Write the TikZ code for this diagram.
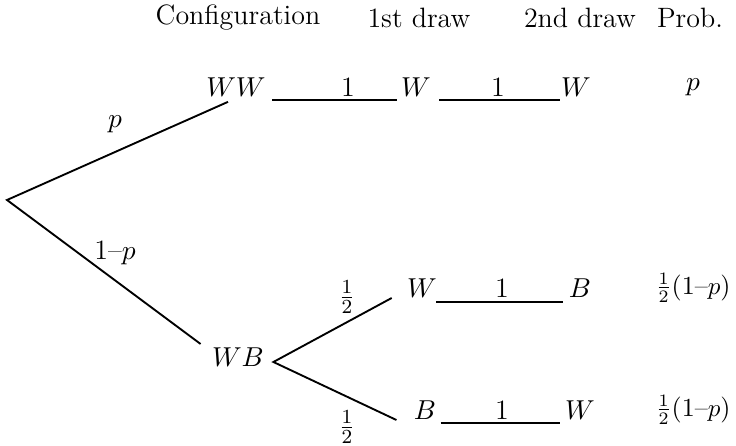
\documentclass[tikz,border=0pt]{standalone}
\usetikzlibrary{calc}
\begin{document}
\begin{tikzpicture}[x=0.4pt,y=-0.4pt,
  every node/.style={inner sep=0pt,font=\fontsize{11.2}{13.5}\selectfont},
  probtxt/.style={anchor=east,font=\fontsize{10.4}{12.5}\selectfont},
  edge/.style={line width=0.75pt}]
\useasboundingbox (0,0) rectangle (736,446);
% headers
\node (hc) at (238,18) {Configuration};
\node (h1) at (419,18) {1st draw};
\node (h2) at (580,18) {2nd draw};
\node (hp) at (690,18) {Prob.};
% root
\coordinate (root) at (7,200);
% top row
\node (ww) at (236,87) {$WW$};
\node (o1) at (348,87) {1};
\node (wa) at (416,87) {$W$};
\node (o2) at (498,87) {1};
\node (wb) at (576,87) {$W$};
\node (pa) at (693,87) {$p$};
% WB
\node (wbn) at (238,357) {$WB$};
% middle row
\node (mw) at (422,288) {$W$};
\node (m1) at (502,288) {1};
\node (mb) at (580,288) {$B$};
\node[probtxt] (mp) at (731,288) {$\frac12$(1--$p$)};
% bottom row
\node (bb) at (425,410) {$B$};
\node (b1) at (502,410) {1};
\node (bw) at (580,410) {$W$};
\node[probtxt] (bp) at (731,410) {$\frac12$(1--$p$)};
% branch labels
\node (lp) at (115,124) {$p$};
\node (lq) at (115,253) {1--$p$};
\node (lh1) at (347,297) {$\frac12$};
\node (lh2) at (347,427) {$\frac12$};
% branches
\draw[edge] ($(ww.south)+(-8,5)$) -- (root) -- ($(wbn.west)+(-11,-13)$);
\draw[edge] ($(mw.west)+(-15,10)$) -- ($(wbn.east)+(9,5)$) -- ($(bb.west)+(-17,10)$);
% underlines
\draw[edge] ($(ww.east)+(6,13)$) -- ($(wa.west)+(-4,13)$);
\draw[edge] ($(wa.east)+(8,13)$) -- ($(wb.west)+(-1,13)$);
\draw[edge] ($(mw.east)+(-1,14)$) -- ($(mb.west)+(-5,14)$);
\draw[edge] ($(bb.east)+(4,13)$) -- ($(bw.west)+(-5,13)$);
\end{tikzpicture}
\end{document}
